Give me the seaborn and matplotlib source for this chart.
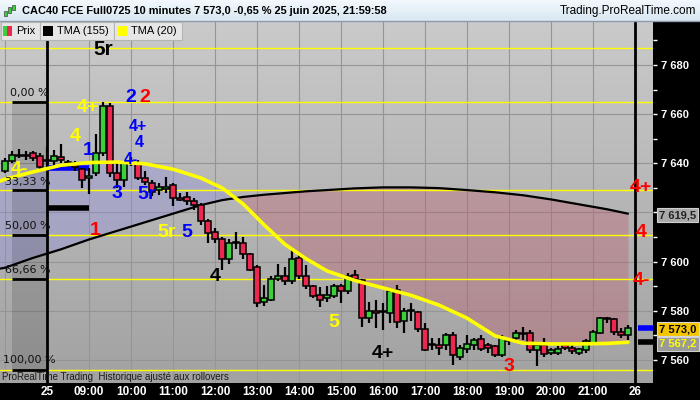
import numpy as np
import matplotlib
matplotlib.use("Agg")
import matplotlib.pyplot as plt
from matplotlib.colors import LinearSegmentedColormap
from matplotlib.patches import Rectangle
import seaborn as sns

# --- data: 10 minute bars, index 6 = 25 juin 08:00 ---
bar_open = [7637, 7641, 7643.5, 7643, 7644, 7643, 7641, 7641, 7642.5, 7640.5,
            7640, 7637.5, 7634, 7636, 7644, 7663.5, 7636, 7633, 7640, 7640,
            7634, 7632, 7629, 7629.5, 7631, 7626, 7626.4, 7624.5, 7623, 7616.5,
            7612, 7609, 7601, 7607.5, 7607.5, 7603, 7598, 7583.5, 7584.5, 7593,
            7594, 7592, 7601.5, 7594, 7590, 7586.5, 7585, 7586, 7590, 7588,
            7594.5, 7592.5, 7577, 7580, 7580, 7579, 7588.5, 7576, 7580, 7579.5,
            7572.5, 7566, 7566, 7566, 7570, 7561, 7564.5, 7566, 7568.5, 7566,
            7565.5, 7562, 7568, 7569, 7571, 7571, 7564, 7566, 7563, 7563,
            7566, 7565, 7563, 7564, 7567, 7571, 7577, 7576.5, 7571.5, 7570]
bar_high = [7642, 7645, 7646, 7645, 7645, 7644, 7646.5, 7645.5, 7648, 7641.5,
            7641, 7638, 7638, 7652, 7665, 7664.5, 7640, 7641, 7642.5, 7641.5,
            7637, 7633, 7632, 7634.5, 7632, 7628, 7628.5, 7626, 7624, 7617.5,
            7613.5, 7610, 7609, 7612, 7610, 7603.5, 7598.5, 7590.5, 7594, 7599,
            7598, 7605, 7603.5, 7598.5, 7590.5, 7589.5, 7590, 7591, 7591, 7595.5,
            7596.5, 7593, 7583.5, 7584.5, 7583, 7589, 7590.5, 7581, 7583, 7580,
            7575, 7569, 7569, 7571, 7571.5, 7566, 7570, 7569, 7570, 7567,
            7566, 7570, 7569, 7572, 7573.5, 7572, 7567, 7569, 7565, 7565.5,
            7567, 7566, 7565, 7568.5, 7572, 7577.5, 7577.5, 7577, 7573, 7574]
bar_low = [7636, 7640, 7642, 7641.5, 7641, 7636.5, 7638.5, 7638.5, 7640, 7638.5,
           7637, 7630, 7627.5, 7635, 7643, 7634.5, 7630, 7630.5, 7639, 7633,
           7631, 7626.5, 7627, 7628, 7622.5, 7624.5, 7623, 7621, 7615, 7607.5,
           7607.5, 7596.5, 7599, 7605, 7601, 7596, 7581.5, 7582, 7584, 7592,
           7590.5, 7591, 7593, 7589, 7585, 7581.5, 7583.5, 7585, 7583, 7587,
           7592, 7573.5, 7575, 7573, 7572, 7575, 7573, 7571, 7576, 7571.5,
           7563.5, 7564, 7562, 7564, 7558, 7560, 7563, 7564, 7563.5, 7563,
           7561, 7561, 7566, 7567, 7568, 7563, 7557.5, 7561, 7562, 7562,
           7564, 7562.5, 7562, 7563, 7566, 7570.5, 7575, 7570, 7569, 7568]
bar_close = [7641, 7643.5, 7643, 7643.5, 7642, 7638.5, 7641.5, 7643, 7641.5, 7640,
             7638.5, 7633, 7635, 7644, 7663.5, 7636, 7633, 7640, 7640.5, 7634,
             7632.5, 7628.5, 7630.5, 7630.5, 7626, 7625, 7624.5, 7623, 7616.5, 7611.5,
             7609, 7601, 7607.5, 7608, 7603, 7596.5, 7583, 7585, 7593, 7594,
             7592, 7601, 7594, 7590, 7586, 7584.5, 7586.5, 7590, 7588, 7594,
             7593, 7577, 7580, 7579, 7579.5, 7588, 7575.5, 7580, 7580.5, 7572.5,
             7564, 7566.5, 7565, 7570, 7562, 7565, 7566.5, 7568, 7564.5, 7564.7,
             7562, 7569, 7567.5, 7571, 7570.5, 7564, 7566, 7562.5, 7564, 7564.5,
             7565, 7563.5, 7564.5, 7567.5, 7571.5, 7577, 7576.5, 7571.5, 7570, 7573]

tma_idx = [-1, 0, 4, 8, 12, 16, 20, 24, 28, 31, 34, 37, 40, 43, 46, 50, 54,
           58, 62, 66, 70, 74, 78, 82, 86, 89]
tma20 = [7632.5, 7633.5, 7636.5, 7639.2, 7640.3, 7640.5, 7639.8, 7637.6, 7634,
         7630, 7623.5, 7615, 7607, 7601.2, 7596.2, 7592.3, 7589.3, 7586.3,
         7582.3, 7577, 7569.8, 7566.8, 7566.5, 7566.5, 7566.7, 7567.2]
tma155 = [7597, 7597.5, 7601.5, 7605, 7609, 7612.5, 7616, 7619.5, 7623, 7625,
          7626.3, 7627.2, 7627.9, 7628.6, 7629.1, 7629.8, 7630.2, 7630.2,
          7629.9, 7629.1, 7628.2, 7627, 7625.3, 7623.3, 7621.3, 7619.5]

fib_names = ["0,00 %", "33,33 %", "50,00 %", "66,66 %", "100,00 %"]
fib_levels = [7665, 7629, 7611, 7593, 7556]
top_level = 7687

hour_ticks = [0, 6, 12, 18, 24, 30, 36, 42, 48, 54, 60, 66, 72, 78, 84, 90]
hour_labels = ["", "25", "09:00", "10:00", "11:00", "12:00", "13:00", "14:00",
               "15:00", "16:00", "17:00", "18:00", "19:00", "20:00", "21:00", "26"]
price_ticks = [7560, 7580, 7600, 7620, 7640, 7660, 7680]
price_labels = ["7 560", "7 580", "7 600", "", "7 640", "7 660", "7 680"]

# wave count labels: (bar index, price, text, colour, size)
wave_labels = [
    (14.1, 7686.1, "5r", "black", 15), (11.9, 7662.5, "4+", "#ffff00", 14),
    (10.0, 7651.1, "4", "#ffff00", 14), (11.9, 7645.4, "1", "#0000ff", 14),
    (17.9, 7666.6, "2", "#0000ff", 14), (20.0, 7666.6, "2", "#ff0000", 14),
    (19.0, 7654.8, "4+", "#0000ff", 11.5), (19.2, 7648.3, "4", "#0000ff", 11.5),
    (18.0, 7641.6, "4-", "#0000ff", 11.5), (2.1, 7637.3, "4-", "#ffff00", 14),
    (16.0, 7627.9, "3", "#0000ff", 14), (20.3, 7627.1, "5r", "#0000ff", 14),
    (12.9, 7612.5, "1", "#ff0000", 14), (23.1, 7611.7, "5r", "#ffff00", 14),
    (26.0, 7611.7, "5", "#0000ff", 14), (30.0, 7593.8, "4", "black", 14),
    (47.0, 7575.4, "5", "#ffff00", 14), (54.0, 7562.8, "4+", "black", 14),
    (72.0, 7557.5, "3", "#ff0000", 14), (90.9, 7630.0, "4+", "#ff0000", 14),
    (90.9, 7611.7, "4", "#ff0000", 14), (90.9, 7592.5, "4-", "#ff0000", 14),
]

sns.set_style("white")
plt.rcParams['font.family'] = ['Liberation Sans', 'DejaVu Sans']

W, H = 700, 400
def fx(x):
    return x / W
def fy(y):
    return 1 - y / H

fig = plt.figure(figsize=(7, 4), dpi=100)
fig.patch.set_facecolor('black')

ax = fig.add_axes([0, fy(383), fx(653), (383 - 21) / H])
x0, x1 = -5 / 7, 648 / 7
y0, y1 = 7550.6, 7697.9

grad = np.linspace(0, 1, 200).reshape(-1, 1)
bg = LinearSegmentedColormap.from_list('bg', ['#cacaca', '#a2a2a2'])
ax.imshow(grad, extent=[x0, x1, y0, y1], origin='upper', aspect='auto', cmap=bg, zorder=0)

# fill between the two moving averages
t20 = np.array(tma20)
t155 = np.array(tma155)
ax.fill_between(tma_idx, t20, t155, where=t20 >= t155, interpolate=True,
                color='#8a8ae6', alpha=0.32, lw=0, zorder=1)
ax.fill_between(tma_idx, t20, t155, where=t20 < t155, interpolate=True,
                color='#c24c5e', alpha=0.30, lw=0, zorder=1)

# fibonacci box on the left
ax.add_patch(Rectangle((1, fib_levels[-1]), 5, fib_levels[0] - fib_levels[-1],
                       facecolor='black', alpha=0.13, lw=0, zorder=1.2))
for lv in fib_levels + [top_level]:
    ax.axhline(lv, color='#ffff00', lw=1, zorder=2)
ax.hlines(fib_levels, 1, 6, colors='black', lw=2, zorder=3)
pct_pos = [(0.71, 7668.6), (0.0, 7632.4), (0.0, 7614.5), (0.0, 7596.6), (-0.29, 7560.0)]
for (px, pv), name in zip(pct_pos, fib_names):
    ax.text(px, pv, name, fontsize=8, family='DejaVu Sans', color='#111111',
            ha='left', va='center', zorder=6)

# day separators and markers
ax.axvline(6, color='black', lw=2, zorder=3)
ax.axvline(90, color='black', lw=2, zorder=3)
ax.hlines(7638, 6, 12, colors='#0000ff', lw=4, zorder=3)
ax.hlines(7621.7, 6, 12, colors='black', lw=4, zorder=3)
ax.hlines(bar_close[-1], 90.4, x1, colors='#0000ff', lw=4, zorder=3)
ax.hlines(tma20[-1], 90.4, x1, colors='black', lw=4, zorder=3)

sns.lineplot(x=tma_idx, y=tma155, ax=ax, color='black', lw=1.6, legend=False, zorder=3)

# candles
idx = np.arange(len(bar_open))
o = np.array(bar_open)
c = np.array(bar_close)
ax.vlines(idx, bar_low, bar_high, colors='black', lw=1.6, zorder=3.5)
cols = np.where(c >= o, '#3ccf3c', '#ec2850')
ax.bar(idx, np.maximum(np.abs(c - o), 0.4), bottom=np.minimum(o, c), width=0.72,
       color=cols, edgecolor='black', linewidth=1.1, zorder=4)

sns.lineplot(x=tma_idx, y=tma20, ax=ax, color='#ffff00', lw=2.6, legend=False, zorder=5)

for k, p, t, col, fs in wave_labels:
    ax.text(k, p, t, color=col, fontsize=fs, fontweight='bold', ha='center',
            va='center', zorder=7)

ax.set_xlim(x0, x1)
ax.set_ylim(y0, y1)
ax.set_xticks(hour_ticks)
ax.set_xticklabels(hour_labels, fontweight='bold')
ax.yaxis.tick_right()
ax.set_yticks(price_ticks)
ax.set_yticklabels(price_labels, fontweight='bold')
ax.set_yticks([v + 10 for v in price_ticks], minor=True)
ax.tick_params(axis='y', which='both', colors='white', length=3, width=1, pad=3, labelsize=8)
ax.tick_params(axis='x', length=0, pad=2, labelcolor='white', labelsize=8.5)
ax.grid(True, which='major', color='#959595', lw=0.8)
ax.set_axisbelow(True)
for s in ax.spines.values():
    s.set_visible(False)

# header
hax = fig.add_axes([0, fy(21), 1, 21 / H])
hbg = LinearSegmentedColormap.from_list('hb', ['#f3f9fd', '#d8e7f2'])
hax.imshow(grad, aspect='auto', cmap=hbg, extent=[0, 1, 0, 1], origin='upper')
hax.axis('off')
fig.add_artist(plt.Line2D([0, 1], [fy(21), fy(21)], color='#8c9cab', lw=1, transform=fig.transFigure))
for xx, yb, yt in [(5, 16, 11), (9, 13, 7), (13, 10, 5)]:
    fig.add_artist(Rectangle((fx(xx - 1.5), fy(yb)), fx(3), (yb - yt) / H, transform=fig.transFigure,
                             fc='#3ccf3c', ec='#444444', lw=0.5))
fig.text(fx(22), fy(11), "CAC40 FCE Full0725 10 minutes 7 573,0 -0,65 % 25 juin 2025, 21:59:58",
         fontsize=7.9, fontweight='bold', color='black', va='center', ha='left')
fig.text(fx(696), fy(11), "Trading.ProRealTime.com", fontsize=8.5, color='black',
         va='center', ha='right')

# legend boxes
for bx0, bx1 in [(1, 40), (40, 114), (114, 182)]:
    fig.add_artist(Rectangle((fx(bx0), fy(40)), fx(bx1 - bx0), 18 / H, transform=fig.transFigure,
                             fc='#e6e6e6', ec='#b5b5b5', lw=0.8, zorder=5))
sq = [(3, 7.3, '#3ccf3c'), (7.3, 12, '#ec2850'), (43, 53, 'black'), (117, 127, '#ffff00')]
for sx0, sx1, col in sq:
    fig.add_artist(Rectangle((fx(sx0), fy(36)), fx(sx1 - sx0), 10 / H, transform=fig.transFigure,
                             fc=col, ec='none', zorder=6))
for tx, txt in [(16, "Prix"), (57, "TMA (155)"), (131, "TMA (20)")]:
    fig.text(fx(tx), fy(31), txt, fontsize=8, color='black', va='center', ha='left', zorder=7)

fig.text(fx(2), fy(377), "ProRealTime Trading  Historique ajusté aux rollovers",
         fontsize=7, color='#1a1a1a', va='center', ha='left')

# value boxes on the price scale
fig.text(fx(659), fy(215), "7 619,5", fontsize=8, fontweight='bold', color='#222222', va='center',
         bbox=dict(boxstyle='square,pad=0.2', fc='#a9a9a9', ec='#d0d0d0', lw=0.8))
fig.text(fx(659), fy(329), "7 573,0", fontsize=8, fontweight='bold', color='black', va='center',
         bbox=dict(boxstyle='square,pad=0.2', fc='#f5c400', ec='#d8d8d8', lw=0.8))
fig.text(fx(659), fy(344), "7 567,2", fontsize=8, fontweight='bold', color='#ffff00', va='center',
         bbox=dict(boxstyle='square,pad=0.2', fc='#9a9a9a', ec='#d0d0d0', lw=0.8))

fig.savefig("out.png", dpi=100, facecolor=fig.get_facecolor())
